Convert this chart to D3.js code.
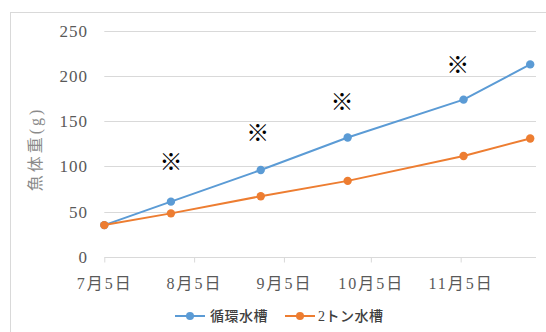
<!DOCTYPE html>
<html>
<head>
<meta charset="utf-8">
<script src="https://cdn.jsdelivr.net/npm/d3@7"></script>
<style>
  html, body { margin: 0; padding: 0; background: #fff; }
  svg { display: block; }
</style>
</head>
<body>
<svg id="chart" width="546" height="332"></svg>
<script>
// Sampling dates and fish weight (g) for the two tanks
const sampleDates = ["2019-07-05", "2019-07-28", "2019-08-28", "2019-09-27", "2019-11-06", "2019-11-29"];
const recircTank = [35, 61, 96, 132, 174, 213];
const twoTonTank = [35, 48, 67, 84, 111.5, 131];

// Series names and colours
const seriesNames = ["循環水槽", "2トン水槽"];
const seriesColors = ["#5b9bd5", "#ed7d31"];

// Axis ticks
const xTickDates = ["2019-07-05", "2019-08-05", "2019-09-05", "2019-10-05", "2019-11-05"];
const xTickLabels = ["7月5日", "8月5日", "9月5日", "10月5日", "11月5日"];
const yTicks = [0, 50, 100, 150, 200, 250];
const yTitle = "魚体重(g)";

// ※ marks placed above the recirculating-tank points
const noteDates = ["2019-07-28", "2019-08-27", "2019-09-25", "2019-11-04"];
const noteValues = [105, 137, 172, 213];
const noteText = "※";

const parse = d3.timeParse("%Y-%m-%d");
const svg = d3.select("#chart");

const serifFont = "'Liberation Serif', 'Noto Sans CJK JP', serif";
const gridColor = "#d9d9d9";
const labelColor = "#595959";

// Outer chart frame
svg.append("rect")
  .attr("x", 10.5).attr("y", 12.5)
  .attr("width", 600).attr("height", 400)
  .attr("fill", "none").attr("stroke", gridColor).attr("stroke-width", 1);

const plot = { left: 104.3, right: 536, top: 31, bottom: 256.7 };

const x = d3.scaleTime()
  .domain([parse("2019-07-05"), parse("2019-12-01")])
  .range([plot.left, plot.right]);

const y = d3.scaleLinear()
  .domain([0, 250])
  .range([plot.bottom, plot.top]);

// Horizontal gridlines
svg.append("g")
  .selectAll("line")
  .data(yTicks.filter(v => v > 0))
  .join("line")
  .attr("x1", plot.left).attr("x2", plot.right)
  .attr("y1", d => Math.round(y(d)) + 0.5).attr("y2", d => Math.round(y(d)) + 0.5)
  .attr("stroke", gridColor).attr("stroke-width", 1);

// Y tick labels
svg.append("g")
  .selectAll("text")
  .data(yTicks)
  .join("text")
  .attr("x", 88)
  .attr("y", d => y(d))
  .attr("dy", "0.35em")
  .attr("text-anchor", "end")
  .attr("font-family", serifFont)
  .attr("font-size", 17)
  .attr("letter-spacing", "1px")
  .attr("fill", labelColor)
  .text(d => d);

// X axis with month ticks
const xAxis = d3.axisBottom(x)
  .tickValues(xTickDates.map(parse))
  .tickSizeInner(5)
  .tickSizeOuter(0)
  .tickPadding(15)
  .tickFormat((d, i) => xTickLabels[i]);

const gx = svg.append("g")
  .attr("transform", `translate(0,${Math.round(plot.bottom) + 0.5})`)
  .call(xAxis);
gx.select(".domain").attr("stroke", gridColor).attr("d", `M${plot.left},0H${plot.right}`);
gx.selectAll(".tick line").attr("stroke", gridColor);
gx.selectAll(".tick text")
  .attr("font-family", serifFont)
  .attr("font-size", 16)
  .attr("letter-spacing", "2px")
  .attr("fill", labelColor);

// Y axis title
svg.append("text")
  .attr("transform", "translate(41,149) rotate(-90)")
  .attr("text-anchor", "middle")
  .attr("font-family", serifFont)
  .attr("font-size", 16)
  .attr("letter-spacing", "3px")
  .attr("fill", "#8a8a8a")
  .text(yTitle);

// Series lines and markers
const series = [recircTank, twoTonTank];
const line = d3.line()
  .x((d, i) => x(parse(sampleDates[i])))
  .y(d => y(d));

series.forEach((vals, s) => {
  const g = svg.append("g");
  g.append("path")
    .datum(vals)
    .attr("d", line)
    .attr("fill", "none")
    .attr("stroke", seriesColors[s])
    .attr("stroke-width", 2)
    .attr("stroke-linejoin", "round");
  g.selectAll("circle")
    .data(vals)
    .join("circle")
    .attr("cx", (d, i) => x(parse(sampleDates[i])))
    .attr("cy", d => y(d))
    .attr("r", 4.2)
    .attr("fill", seriesColors[s]);
});

// ※ annotations
svg.append("g")
  .selectAll("text")
  .data(noteDates)
  .join("text")
  .attr("x", d => x(parse(d)))
  .attr("y", (d, i) => y(noteValues[i]))
  .attr("dy", "0.36em")
  .attr("text-anchor", "middle")
  .attr("font-family", "'Noto Sans CJK JP', sans-serif")
  .attr("font-size", 23)
  .attr("fill", "#000")
  .text(noteText);

// Legend
const legendY = 316;
const legendItems = [
  { x0: 175, tx: 210 },
  { x0: 285, tx: 318 }
];
seriesNames.forEach((name, s) => {
  const it = legendItems[s];
  const g = svg.append("g");
  g.append("line")
    .attr("x1", it.x0).attr("x2", it.x0 + 30)
    .attr("y1", legendY).attr("y2", legendY)
    .attr("stroke", seriesColors[s]).attr("stroke-width", 2);
  g.append("circle")
    .attr("cx", it.x0 + 15).attr("cy", legendY).attr("r", 4)
    .attr("fill", seriesColors[s]);
  g.append("text")
    .attr("x", it.tx).attr("y", legendY)
    .attr("dy", "0.36em")
    .attr("font-family", serifFont)
    .attr("font-size", 14)
    .attr("font-weight", 500)
    .attr("letter-spacing", "0.5px")
    .attr("fill", "#404040")
    .text(name);
});
</script>
</body>
</html>
